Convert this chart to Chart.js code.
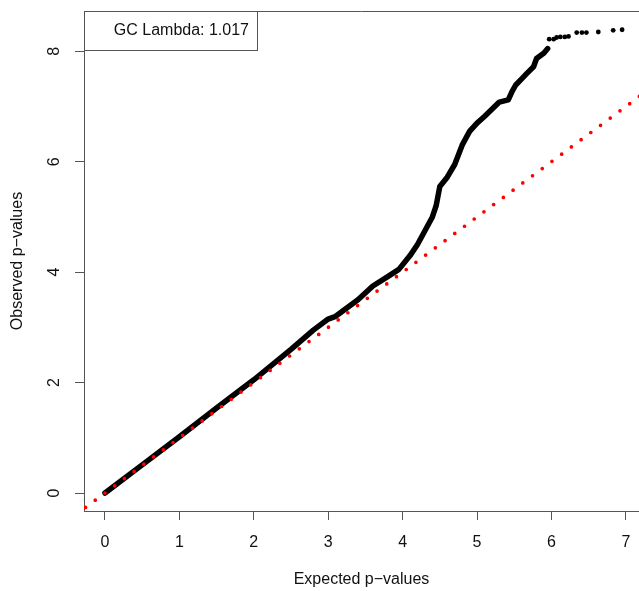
<!DOCTYPE html>
<html>
<head>
<meta charset="utf-8">
<script src="https://cdn.jsdelivr.net/npm/chart.js@4.4.1/dist/chart.umd.min.js"></script>
<style>
  html, body { margin: 0; padding: 0; background: #fff; }
  #wrap { width: 639px; height: 591px; }
</style>
</head>
<body>
<div id="wrap"><canvas id="qqChart" width="639" height="591"></canvas></div>
<script>
// QQ plot data (-log10 p)
var curveExpected = [0, 0.5, 1, 1.5, 2, 2.5, 2.8, 3.0, 3.1, 3.2, 3.4, 3.6, 3.8, 3.95, 4.1, 4.2, 4.3, 4.4, 4.45, 4.5, 4.6, 4.7, 4.8, 4.9, 5.0, 5.1, 5.2, 5.3, 5.42, 5.47, 5.52, 5.6, 5.67, 5.76, 5.8, 5.9, 5.95];
var curveObserved = [0, 0.51, 1.02, 1.54, 2.05, 2.6, 2.95, 3.15, 3.2, 3.3, 3.5, 3.75, 3.92, 4.05, 4.3, 4.5, 4.75, 5.0, 5.2, 5.55, 5.72, 5.95, 6.3, 6.55, 6.7, 6.82, 6.95, 7.08, 7.12, 7.27, 7.39, 7.5, 7.6, 7.72, 7.87, 7.97, 8.05];
var tailExpected = [5.97, 6.03, 6.07, 6.12, 6.18, 6.23, 6.34, 6.41, 6.47, 6.63, 6.83, 6.95];
var tailObserved = [8.22, 8.22, 8.25, 8.26, 8.26, 8.27, 8.34, 8.34, 8.34, 8.35, 8.38, 8.39];
var refLine = [-0.392, 7.5];
var xTicks = [0, 1, 2, 3, 4, 5, 6, 7];
var yTicks = [0, 2, 4, 6, 8];
var lambdaText = 'GC Lambda: 1.017';

var FONT = "'Liberation Sans', Arial, sans-serif";

function pairs(xs, ys) {
    return xs.map(function (v, i) { return { x: v, y: ys[i] }; });
}

var decor = {
    id: 'decor',
    afterDraw: function (chart) {
        var ctx = chart.ctx, a = chart.chartArea, y = chart.scales.y;
        ctx.save();
        ctx.strokeStyle = '#555';
        ctx.lineWidth = 1;
        // top edge of the box
        ctx.beginPath();
        ctx.moveTo(a.left, a.top + 0.5);
        ctx.lineTo(a.right, a.top + 0.5);
        ctx.stroke();
        // legend box
        ctx.strokeRect(a.left + 0.5, a.top + 0.5, 173, 39);
        ctx.fillStyle = '#111';
        ctx.font = '16px ' + FONT;
        ctx.textAlign = 'right';
        ctx.textBaseline = 'middle';
        ctx.fillText(lambdaText, a.left + 165, a.top + 20);

        // y tick labels, rotated like R
        ctx.textAlign = 'center';
        yTicks.forEach(function (v) {
            ctx.save();
            ctx.translate(55, y.getPixelForValue(v));
            ctx.rotate(-Math.PI / 2);
            ctx.fillText(String(v), 0, 0);
            ctx.restore();
        });

        // axis titles
        ctx.fillText('Expected p\u2212values', (a.left + a.right) / 2, 580);
        ctx.save();
        ctx.translate(18, (a.top + a.bottom) / 2);
        ctx.rotate(-Math.PI / 2);
        ctx.fillText('Observed p\u2212values', 0, 0);
        ctx.restore();
        ctx.restore();
    }
};

var ctx = document.getElementById('qqChart').getContext('2d');
var qqChart = new Chart(ctx, {
    type: 'scatter',
    data: {
        datasets: [{
            label: 'expected',
            data: pairs(refLine, refLine),
            showLine: true,
            borderColor: '#ff0000',
            borderWidth: 3.7,
            borderDash: [0, 12.1],
            borderCapStyle: 'round',
            pointRadius: 0,
            order: 0
        }, {
            label: 'observed',
            data: pairs(curveExpected, curveObserved),
            showLine: true,
            borderColor: '#000',
            borderWidth: 5.5,
            borderCapStyle: 'round',
            borderJoinStyle: 'round',
            pointRadius: 0,
            order: 1
        }, {
            label: 'tail',
            data: pairs(tailExpected, tailObserved),
            backgroundColor: '#000',
            borderWidth: 0,
            pointRadius: 2.4,
            order: 2
        }]
    },
    options: {
        responsive: false,
        animation: false,
        layout: { autoPadding: false, padding: { top: 11, left: 0, right: 0, bottom: 0 } },
        plugins: {
            legend: { display: false },
            tooltip: { enabled: false }
        },
        scales: {
            x: {
                type: 'linear',
                min: -0.282,
                max: 7.177,
                afterBuildTicks: function (s) { s.ticks = xTicks.map(function (v) { return { value: v }; }); },
                afterFit: function (s) { s.height = 80; s.paddingLeft = 0; s.paddingRight = 0; },
                grid: { drawOnChartArea: false, tickLength: 9, color: '#555' },
                border: { color: '#555', width: 1 },
                ticks: { color: '#111', padding: 13, maxRotation: 0, font: { family: FONT, size: 16 } }
            },
            y: {
                type: 'linear',
                min: -0.326,
                max: 8.73,
                afterBuildTicks: function (s) { s.ticks = yTicks.map(function (v) { return { value: v }; }); },
                afterFit: function (s) { s.width = 84; s.paddingTop = 0; s.paddingBottom = 0; },
                grid: { drawOnChartArea: false, tickLength: 9, color: '#555' },
                border: { color: '#555', width: 1 },
                ticks: { display: false }
            }
        }
    },
    plugins: [decor]
});
</script>
</body>
</html>
